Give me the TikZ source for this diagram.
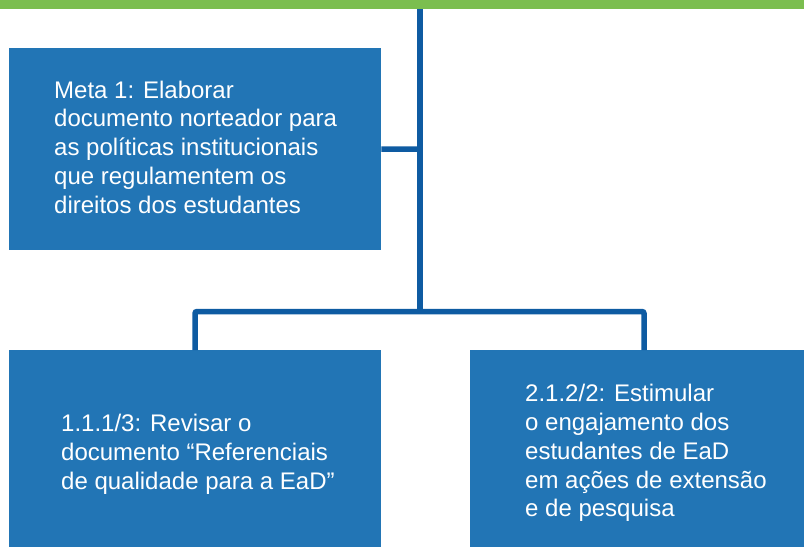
\documentclass[tikz,border=0pt]{standalone}
\usepackage{fontspec}
\setmainfont{Liberation Sans}
\definecolor{topgreen}{HTML}{7BBE4F}
\definecolor{boxblue}{HTML}{2275B5}
\definecolor{lineblue}{HTML}{0E5BA2}
\begin{document}
\begin{tikzpicture}[x=1pt,y=-1pt,
  box/.style={fill=boxblue, draw=none, inner sep=0, anchor=north west},
  conn/.style={draw=lineblue, line width=5.5pt},
  boxtext/.style={text=white, font=\fontsize{24}{28.7}\selectfont, align=left, inner sep=0, anchor=base west}]
\useasboundingbox (0,0) rectangle (804,547);
\node[fill=topgreen, inner sep=0, minimum width=804pt, minimum height=9pt, anchor=north west] (bar) at (0,0) {};
\node[box, minimum width=372pt, minimum height=202pt] (meta) at (9,48) {};
\node[box, minimum width=372pt, minimum height=197pt] (bl) at (9,350) {};
\node[box, minimum width=334pt, minimum height=197pt] (br) at (470,350) {};
\coordinate (j1) at (420,149);
\coordinate (j2) at (420,311.5);
\coordinate (l) at (195,311.5);
\coordinate (r) at (644,311.5);
\draw[conn] (bar.south -| j1) -- (j2);
\draw[conn] (meta.east) -- (j1);
\draw[conn, rounded corners=2pt] (bl.north -| l) -- (l) -- (r) -- (br.north -| r);
\node[boxtext] (t1) at (54,213) {Meta 1: Elaborar\\documento norteador para\\as políticas institucionais\\que regulamentem os\\direitos dos estudantes};
\node[boxtext] (t2) at (61,489) {1.1.1/3: Revisar o\\documento “Referenciais\\de qualidade para a EaD”};
\node[boxtext] (t3) at (525,516.7) {2.1.2/2: Estimular\\o engajamento dos\\estudantes de EaD\\em ações de extensão\\e de pesquisa};
\end{tikzpicture}
\end{document}
